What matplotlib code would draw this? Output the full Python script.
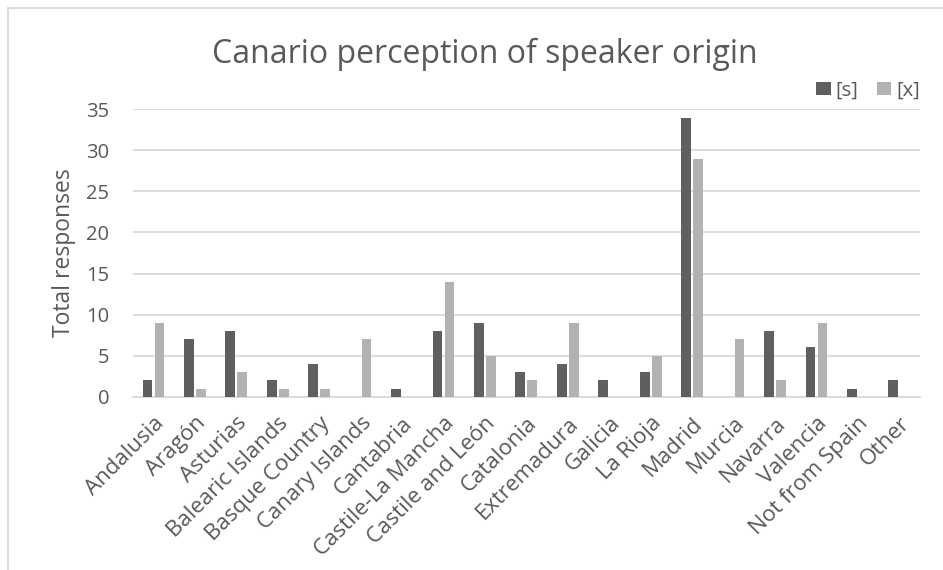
import matplotlib.pyplot as plt
import numpy as np

# values
regions = ['Andalusia', 'Aragón', 'Asturias', 'Balearic Islands', 'Basque Country',
           'Canary Islands', 'Cantabria', 'Castile-La Mancha', 'Castile and León',
           'Catalonia', 'Extremadura', 'Galicia', 'La Rioja', 'Madrid', 'Murcia',
           'Navarra', 'Valencia', 'Not from Spain', 'Other']
s_counts = [2, 7, 8, 2, 4, 0, 1, 8, 9, 3, 4, 2, 3, 34, 0, 8, 6, 1, 2]
x_counts = [9, 1, 3, 1, 1, 7, 0, 14, 5, 2, 9, 0, 5, 29, 7, 2, 9, 0, 0]
yticks = [0, 5, 10, 15, 20, 25, 30, 35]

plt.rcParams['font.family'] = ['Open Sans', 'DejaVu Sans']
txt = '#595959'
grid = '#d9d9d9'

fig = plt.figure(figsize=(9.43, 5.70), dpi=100)
ax = fig.add_axes([0.1407, 0.304, 0.8349, 0.5042])

pos = np.arange(len(regions))
w = 0.235
ax.bar(pos - 0.145, s_counts, w, color='#5f5f5f', label='[s]', zorder=3)
ax.bar(pos + 0.145, x_counts, w, color='#b2b2b2', label='[x]', zorder=3)

ax.set_xlim(-0.5, len(regions) - 0.5)
ax.set_ylim(0, 35)
ax.set_yticks(yticks)
ax.yaxis.grid(True, color=grid, lw=1.3, zorder=0)
for sp in ['top', 'right', 'left']:
    ax.spines[sp].set_visible(False)
ax.spines['bottom'].set_color(grid)
ax.spines['bottom'].set_linewidth(1.3)
ax.tick_params(axis='both', length=0, labelcolor=txt)
ax.tick_params(axis='y', pad=17, labelsize=14.5)
ax.set_xticks(pos)
ax.set_xticklabels(regions, rotation=45, ha='right', rotation_mode='anchor')
ax.tick_params(axis='x', pad=11.5, labelsize=16)
ax.set_ylabel('Total responses', fontsize=16.5, color=txt, labelpad=7)

fig.text(485 / 943, 1 - 63 / 570, 'Canario perception of speaker origin', ha='center',
         va='baseline', fontsize=23, color=txt)

ax.legend(loc='center right', bbox_to_anchor=(920 / 943, 1 - 91 / 570),
          bbox_transform=fig.transFigure, ncol=2, frameon=False,
          fontsize=14.5, labelcolor=txt, handlelength=0.72, handleheight=0.62,
          handletextpad=0.25, columnspacing=0.9, borderaxespad=0, borderpad=0)

# chart border (left and top edges visible in the reference)
fig.add_artist(plt.Line2D([0.0085, 0.0085], [0, 0.986], color=grid, lw=1.3))
fig.add_artist(plt.Line2D([0.0085, 1.0], [0.986, 0.986], color=grid, lw=1.3))

fig.savefig('out.png', dpi=100)
